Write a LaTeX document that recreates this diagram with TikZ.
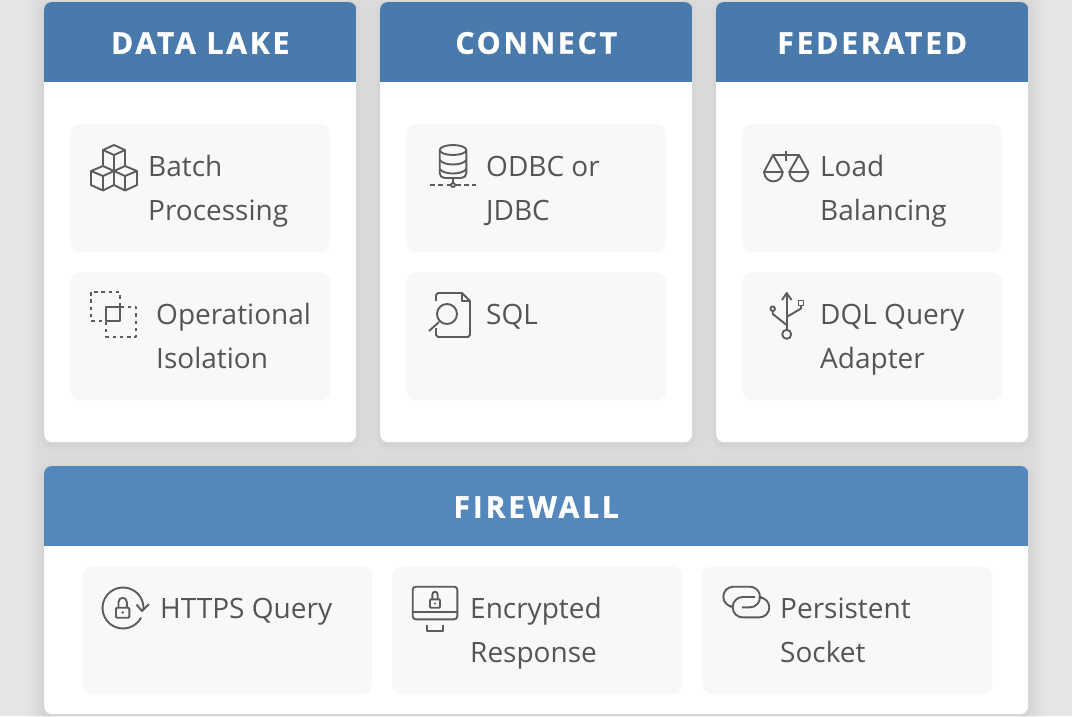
\documentclass[tikz,border=0pt]{standalone}
\usepackage{fontspec}
\setmainfont{Open Sans}
\newfontfamily\headfont[LetterSpace=9.5,BoldFeatures={FakeBold=1.2}]{Open Sans}
\usetikzlibrary{calc}
\definecolor{pagegray}{HTML}{E6E6E6}
\definecolor{lakeblue}{HTML}{4A7AAB}
\definecolor{wallblue}{HTML}{5487BB}
\definecolor{itemgray}{HTML}{F8F8F8}
\definecolor{inkgray}{HTML}{555555}
\definecolor{icongray}{HTML}{5C5C5C}
\tikzset{
  card/.style={anchor=north west,fill=white,rounded corners=8pt,inner sep=0pt,minimum height=#1},
  itembox/.style={anchor=north west,fill=itemgray,rounded corners=10pt,inner sep=0pt,minimum height=128pt},
  itemtext/.style={anchor=north west,inner sep=0pt,align=left,text=inkgray,font=\fontsize{28}{44}\selectfont},
  headtext/.style={text=white,inner sep=0pt,font=\headfont\bfseries\fontsize{30}{34}\selectfont},
  icon/.style={draw=icongray,line width=1.9pt,line join=round},
}
\begin{document}
\begin{tikzpicture}[x=1pt,y=-1pt]
\useasboundingbox (0,0) rectangle (1072,716);
\fill[pagegray] (0,0) rectangle (1072,716);
% shadows
\foreach \s in {16,13,10,7,4,2} {
\foreach \x/\y/\w/\h in {44/2/312/440,380/2/312/440,716/2/312/440,44/466/984/248} {
\fill[black,opacity=0.011,rounded corners=10pt] (\x-\s,\y-\s+3) rectangle (\x+\w+\s,\y+\h+\s+3);
}
}
% cards
\foreach \n/\x/\title in {lake/44/DATA LAKE,connect/380/CONNECT,federated/716/FEDERATED} {
\node (\n) at (\x,2) [card=440pt,minimum width=312pt] {};
\begin{scope}
\clip[rounded corners=8pt] (\n.north west) rectangle (\n.south east);
\fill[lakeblue] (\n.north west) rectangle ($(\n.north east)+(0,80)$);
\end{scope}
\node (\n title) at ($(\n.north)+(0,41)$) [headtext] {\title};
}
\node (firewall) at (44,466) [card=248pt,minimum width=984pt] {};
\begin{scope}
\clip[rounded corners=8pt] (firewall.north west) rectangle (firewall.south east);
\fill[wallblue] (firewall.north west) rectangle ($(firewall.north east)+(0,80)$);
\end{scope}
\node (firewall title) at ($(firewall.north)+(0,41)$) [headtext] {FIREWALL};
% items
\foreach \n/\x/\y in {batch/70/124,isolation/70/272,odbc/406/124,sql/406/272,balance/742/124,adapter/742/272} {
\node (\n) at (\x,\y) [itembox,minimum width=260pt] {};
}
\foreach \n/\x in {query/82,response/392,socket/702} {
\node (\n) at (\x,566) [itembox,minimum width=290pt] {};
}
% labels
\foreach \n/\x/\y/\label in {batch/148/155.5/{Batch\\Processing},isolation/156/303.5/{Operational\\Isolation},odbc/486/155.5/{ODBC or\\JDBC},sql/486/303.5/{SQL},balance/820/155.5/{Load\\Balancing},adapter/820/303.5/{DQL Query\\Adapter},query/160/597.5/{HTTPS Query},response/470/597.5/{Encrypted\\Response},socket/780/597.5/{Persistent\\Socket}} {
\node (\n text) at (\x,\y) [itemtext] {\label};
}
% cubes
\draw[icon] (103,150) -- (114,145) -- (125,150) -- (114,155) -- cycle (103,150) -- (103,166) (125,150) -- (125,166) (114,155) -- (114,171);
\draw[icon] (91,171) -- (103,166) -- (114,171) -- (103,176) -- cycle (91,171) -- (91,185) -- (103,190.5) -- (114,185) -- (114,171) (103,176) -- (103,190.5);
\draw[icon] (114,171) -- (125,166) -- (137,171) -- (125,176) -- cycle (114,185) -- (125,190.5) -- (137,185) -- (137,171) (125,176) -- (125,190.5);
% squares
\draw[icon,dash pattern=on 3.5pt off 3.8pt] (91,292) rectangle (120,321);
\draw[icon,dash pattern=on 3.5pt off 3.8pt] (106,307) rectangle (136,337);
\draw[icon] (106,307) rectangle (120,321);
% database
\draw[icon] (453,150) ellipse [x radius=13.3,y radius=5];
\draw[icon,rounded corners=5pt] (439.7,150) -- (439.7,178) -- (466.3,178) -- (466.3,150);
\draw[icon] (439.7,160) .. controls (444,166) and (462,166) .. (466.3,160);
\draw[icon] (439.7,169) .. controls (444,175) and (462,175) .. (466.3,169);
\draw[icon] (453,178) -- (453,183);
\draw[icon] (453,185) circle [radius=2];
\draw[icon,dash pattern=on 5pt off 3.4pt] (430,185) -- (450.5,185) (455.5,185) -- (476,185);
% document
\draw[icon] (436,301) -- (436,295) -- (438,293) -- (462,293) -- (470,301) -- (470,335) -- (468,337) -- (438,337) -- (436,335) -- (436,328);
\draw[icon] (462,293) -- (462,301) -- (470,301);
\draw[icon] (447,314) circle [radius=10];
\draw[icon] (439,322) -- (429,331);
% scales
\draw[icon] (773,155) -- (799,155) (786,151) -- (786,161);
\draw[icon] (764,172) -- (773,155) -- (782.7,172) -- cycle;
\draw[icon] (789.3,172) -- (799,155) -- (808.3,172) -- cycle;
\draw[icon] (764,172) .. controls (765,184.5) and (781.7,184.5) .. (782.7,172);
\draw[icon] (789.3,172) .. controls (790.3,184.5) and (807.3,184.5) .. (808.3,172);
% usb
\draw[icon] (786.7,293) -- (786.7,330);
\draw[icon] (782,300) -- (786.7,293) -- (791.5,300);
\draw[icon] (786.7,334.3) circle [radius=4.5];
\draw[icon] (786.7,325) -- (772.7,314) -- (772.7,311);
\draw[icon] (772.7,308.7) circle [radius=2.3];
\draw[icon] (786.7,317) -- (801,308.5) -- (801,305.5);
\draw[icon] (798.5,300.5) rectangle (803.5,305.5);
% https
\draw[icon] (141.1,617.6) arc [start angle=28,end angle=365,radius=20.5];
\draw[icon] (136.5,604.5) -- (142,611) -- (149,604);
\draw[icon,rounded corners=1pt] (116,607.7) rectangle (129.3,617.7);
\draw[icon] (118.5,607.7) -- (118.5,602) .. controls (118.5,596.5) and (126.8,596.5) .. (126.8,602) -- (126.8,607.7);
\fill[icongray] (122.7,612.5) circle [radius=1.4];
% monitor
\draw[icon,rounded corners=3pt] (412.7,586.7) rectangle (457.3,619.3);
\draw[icon] (412.7,612.3) -- (457.3,612.3);
\draw[icon] (426.7,625) -- (426.7,631) -- (443.3,631) -- (443.3,625);
\draw[icon,rounded corners=1pt] (430,599.3) rectangle (440,607.7);
\draw[icon] (432.3,599.3) -- (432.3,595) .. controls (432.3,590.5) and (437.7,590.5) .. (437.7,595) -- (437.7,599.3);
\fill[icongray] (435,603.5) circle [radius=1.2];
% links
\draw[icon,rounded corners=10pt] (730,606.7) -- (723.3,606.7) -- (723.3,586.7) -- (760,586.7) -- (760,607.3) -- (742,607.3);
\draw[icon,rounded corners=10pt] (755,597) -- (732.7,597) -- (732.7,617.4) -- (769.3,617.4) -- (769.3,597.4) -- (762,597.4);
\end{tikzpicture}
\end{document}
